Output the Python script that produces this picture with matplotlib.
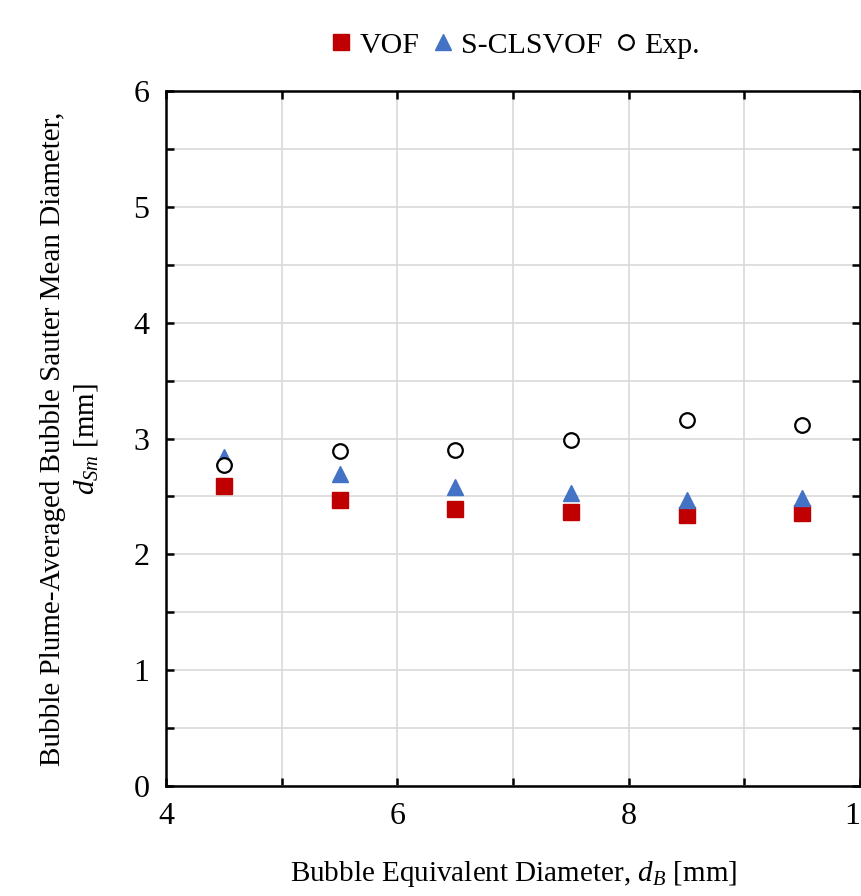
import matplotlib.pyplot as plt
from matplotlib.ticker import MultipleLocator

# bubble equivalent diameter [mm]
d_b = [4.5, 5.5, 6.5, 7.5, 8.5, 9.5]
# plume-averaged Sauter mean diameter [mm]
vof = [2.59, 2.47, 2.39, 2.37, 2.34, 2.36]
clsvof = [2.84, 2.69, 2.58, 2.53, 2.47, 2.49]
exp = [2.77, 2.89, 2.90, 2.99, 3.16, 3.12]

plt.rcParams['font.family'] = ['Liberation Serif', 'DejaVu Serif']
plt.rcParams['mathtext.fontset'] = 'custom'
plt.rcParams['mathtext.rm'] = 'Liberation Serif'
plt.rcParams['mathtext.it'] = 'Liberation Serif:italic'

fig = plt.figure(figsize=(8.61, 8.96), dpi=100)
ax = fig.add_axes([0.193, 0.123, 0.806, 0.775])

ax.plot(d_b, vof, 's', color='#C00000', markersize=11, label='VOF', zorder=3)
ax.plot(d_b, clsvof, '^', color='#4472C4', markersize=11, label='S-CLSVOF', zorder=3)
ax.plot(d_b, exp, 'o', markerfacecolor='white', markeredgecolor='black',
        markeredgewidth=1.6, markersize=10.5, label='Exp.', zorder=4)

ax.set_xlim(4, 10)
ax.set_ylim(0, 6)
ax.xaxis.set_major_locator(MultipleLocator(2))
ax.xaxis.set_minor_locator(MultipleLocator(1))
ax.yaxis.set_major_locator(MultipleLocator(1))
ax.yaxis.set_minor_locator(MultipleLocator(0.5))
ax.grid(which='both', color='#d9d9d9', linewidth=1.2, zorder=0)
ax.set_axisbelow(True)
ax.tick_params(which='both', direction='in', top=True, right=True,
               width=1.8, length=6, labelsize=23, pad=12)
for s in ax.spines.values():
    s.set_linewidth(1.8)

ax.set_xlabel('Bubble Equivalent Diameter, $d_B$ [mm]', fontsize=21, labelpad=20)
ax.set_ylabel('Bubble Plume-Averaged Bubble Sauter Mean Diameter,\n$d_{Sm}$ [mm]',
              fontsize=21, labelpad=24, linespacing=1.3)

ax.legend(loc='lower center', bbox_to_anchor=(0.5, 1.03), ncol=3, frameon=False,
          fontsize=21.5, handletextpad=0.1, columnspacing=0.3, handlelength=1.0,
          borderaxespad=0)

fig.savefig('out.png', dpi=100)
